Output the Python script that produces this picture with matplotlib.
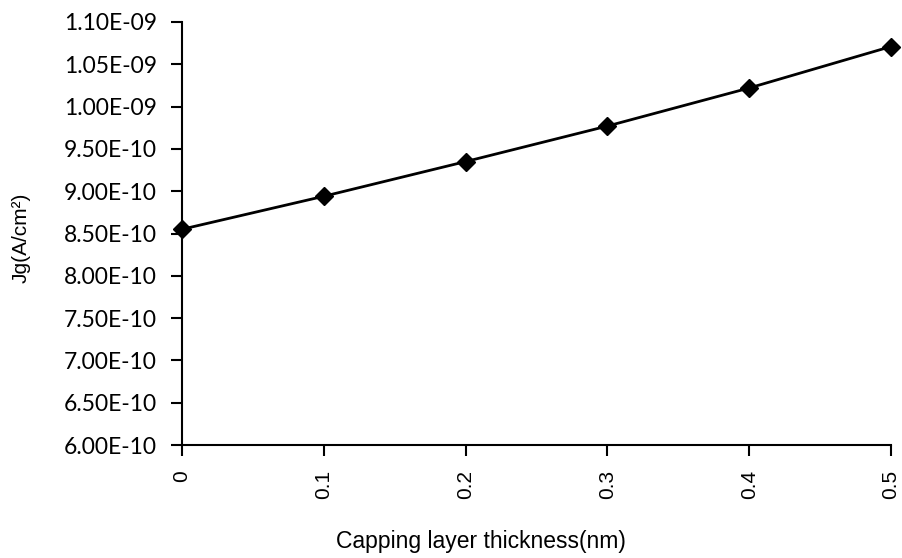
import numpy as np
import matplotlib.pyplot as plt

# Values
thickness = [0, 0.1, 0.2, 0.3, 0.4, 0.5]
jg = [8.55e-10, 8.94e-10, 9.35e-10, 9.77e-10, 1.022e-09, 1.071e-09]
yticks = np.arange(6.0e-10, 1.1e-09 + 1e-12, 0.5e-10)
xticks = [0, 0.1, 0.2, 0.3, 0.4, 0.5]


def excel_sci(v):
    e = int(np.floor(np.log10(v)))
    return "%.2fE-%02d" % (v / 10.0 ** e, -e)


fig = plt.figure(figsize=(9.03, 5.58), dpi=100)
ax = fig.add_axes([182 / 903, (558 - 445) / 558, 709 / 903, 423 / 558])

ax.plot(thickness, jg, color="black", lw=2.0, marker="D", ms=9, clip_on=False, zorder=3)

ax.set_xlim(0, 0.5)
ax.set_ylim(6.0e-10, 1.1e-09)
ax.set_yticks(yticks)
ax.set_yticklabels([excel_sci(v) for v in yticks], family=["Lato", "DejaVu Sans"], fontsize=16.5)
ax.set_xticks(xticks)
ax.set_xticklabels([("%g" % v) for v in xticks], rotation=90, va="top",
                   family=["Liberation Sans", "DejaVu Sans"], fontsize=15)

for s in ["top", "right"]:
    ax.spines[s].set_visible(False)
for s in ["left", "bottom"]:
    ax.spines[s].set_linewidth(1.5)
ax.tick_params(direction="out", length=8, width=1.5)
ax.tick_params(axis="y", pad=10)
ax.tick_params(axis="x", pad=10)

ax.set_xlabel("Capping layer thickness(nm)", family=["Liberation Sans", "DejaVu Sans"],
              fontsize=16.5, va="top")
ax.xaxis.set_label_coords(0.422, -0.2)
ax.set_ylabel("Jg(A/cm²)", family=["Liberation Sans", "DejaVu Sans"], fontsize=15)
ax.yaxis.set_label_coords(-0.214, 0.49)

fig.savefig("out.png", dpi=100)
